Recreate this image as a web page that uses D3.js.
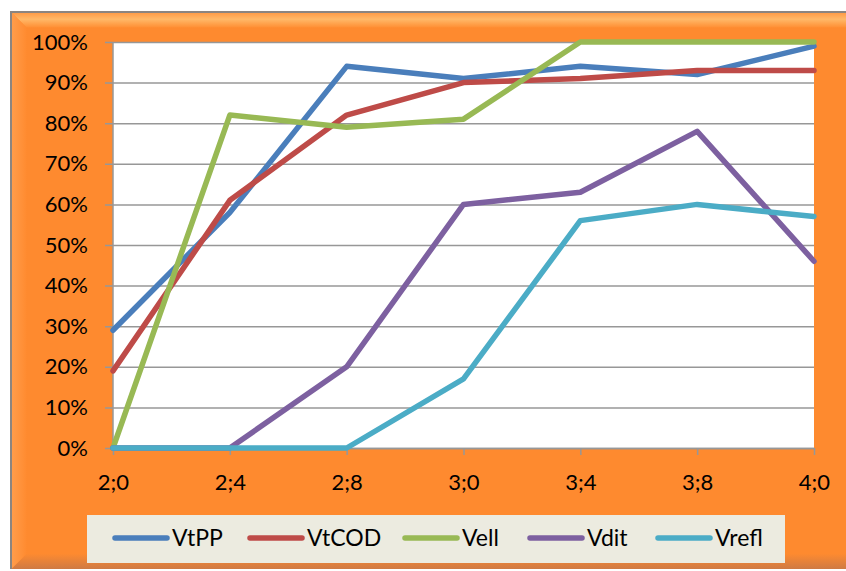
<!DOCTYPE html>
<html>
<head>
<meta charset="utf-8">
<script src="https://cdn.jsdelivr.net/npm/d3@7"></script>
<style>
  html, body { margin: 0; padding: 0; background: #ffffff; }
  svg { display: block; font-family: Lato, "Open Sans", "Liberation Sans", sans-serif; }
  text { font-weight: 400; }
</style>
</head>
<body>
<svg id="chart" width="846" height="571"></svg>
<script>
// Age categories (years;months) and percentage series
const categories = ["2;0", "2;4", "2;8", "3;0", "3;4", "3;8", "4;0"];
const seriesNames = ["VtPP", "VtCOD", "Vell", "Vdit", "Vrefl"];
const seriesColors = ["#4a7ebb", "#be4b48", "#98b954", "#7d60a0", "#4bacc6"];
const VtPP  = [29, 58, 94, 91, 94, 92, 99];
const VtCOD = [19, 61, 82, 90, 91, 93, 93];
const Vell  = [0, 82, 79, 81, 100, 100, 100];
const Vdit  = [0, 0, 20, 60, 63, 78, 46];
const Vrefl = [0, 0, 0, 17, 56, 60, 57];
const yTicks = [0, 10, 20, 30, 40, 50, 60, 70, 80, 90, 100];

const seriesValues = [VtPP, VtCOD, Vell, Vdit, Vrefl];
const series = seriesNames.map((name, i) => ({ name, color: seriesColors[i], values: seriesValues[i] }));

const W = 846, H = 571;
const FONT = "Lato, 'Open Sans', sans-serif";
const svg = d3.select("#chart");
const defs = svg.append("defs");

// Orange frame with bevelled edges
const frame = { x: 10, y: 11, w: W - 10, h: 558 };
const bevel = 15;

const topGrad = defs.append("linearGradient").attr("id", "topBevel").attr("x1", 0).attr("y1", 0).attr("x2", 0).attr("y2", 1);
topGrad.append("stop").attr("offset", "0%").attr("stop-color", "#ff9a45");
topGrad.append("stop").attr("offset", "45%").attr("stop-color", "#ffb868");
topGrad.append("stop").attr("offset", "100%").attr("stop-color", "#ff8f34");

const leftGrad = defs.append("linearGradient").attr("id", "leftBevel").attr("x1", 0).attr("y1", 0).attr("x2", 1).attr("y2", 0);
leftGrad.append("stop").attr("offset", "0%").attr("stop-color", "#ff9d4c");
leftGrad.append("stop").attr("offset", "100%").attr("stop-color", "#ff8b30");

const botGrad = defs.append("linearGradient").attr("id", "botBevel").attr("x1", 0).attr("y1", 0).attr("x2", 0).attr("y2", 1);
botGrad.append("stop").attr("offset", "0%").attr("stop-color", "#fd8a30");
botGrad.append("stop").attr("offset", "100%").attr("stop-color", "#cf7a44");

svg.append("rect")
  .attr("x", frame.x).attr("y", frame.y)
  .attr("width", frame.w).attr("height", frame.h)
  .attr("fill", "#fe8a2f");

const fx0 = frame.x + 1.5, fy0 = frame.y + 1.5, fx1 = frame.x + frame.w, fy1 = frame.y + frame.h;
svg.append("polygon")
  .attr("points", [[fx0, fy0], [fx1, fy0], [fx1, fy0 + bevel], [fx0 + bevel, fy0 + bevel]].join(" "))
  .attr("fill", "url(#topBevel)");
svg.append("polygon")
  .attr("points", [[fx0, fy0], [fx0 + bevel, fy0 + bevel], [fx0 + bevel, fy1 - bevel], [fx0, fy1]].join(" "))
  .attr("fill", "url(#leftBevel)");
svg.append("polygon")
  .attr("points", [[fx0, fy1], [fx0 + bevel, fy1 - bevel], [fx1, fy1 - bevel], [fx1, fy1]].join(" "))
  .attr("fill", "url(#botBevel)");

// Thin grey outline on the top and left of the frame
svg.append("path")
  .attr("d", `M${frame.x + 1},${frame.h + frame.y} V${frame.y + 1} H${W}`)
  .attr("fill", "none").attr("stroke", "#8c8580").attr("stroke-width", 2);

// Plot area
const plot = { left: 113, right: 814, top: 42, bottom: 448 };
svg.append("rect")
  .attr("x", plot.left).attr("y", plot.top)
  .attr("width", plot.right - plot.left).attr("height", plot.bottom - plot.top)
  .attr("fill", "#ffffff");

const x = d3.scalePoint().domain(categories).range([plot.left, plot.right]);
const y = d3.scaleLinear().domain([0, 100]).range([plot.bottom, plot.top]);

// Horizontal gridlines with outward tick marks
const yAxis = svg.append("g")
  .attr("transform", `translate(${plot.left},0)`)
  .call(d3.axisLeft(y).tickValues(yTicks).tickSize(-(plot.right - plot.left)).tickSizeOuter(0).tickPadding(25).tickFormat(d => d + "%"));
yAxis.select(".domain").remove();
yAxis.selectAll(".tick line")
  .attr("x1", -8)
  .attr("stroke", "#979797").attr("stroke-width", 1.5);
yAxis.selectAll(".tick text")
  .attr("fill", "#000").attr("font-size", 22).attr("font-family", FONT).attr("font-weight", 400);

// Left axis line
svg.append("line")
  .attr("x1", plot.left).attr("x2", plot.left)
  .attr("y1", plot.top).attr("y2", plot.bottom)
  .attr("stroke", "#979797").attr("stroke-width", 1.5);

// Category axis
const xAxis = svg.append("g")
  .attr("transform", `translate(0,${plot.bottom})`)
  .call(d3.axisBottom(x).tickSize(7).tickSizeOuter(0).tickPadding(19));
xAxis.select(".domain").attr("stroke", "#979797").attr("stroke-width", 1.5);
xAxis.selectAll(".tick line").attr("stroke", "#979797").attr("stroke-width", 1.5);
xAxis.selectAll(".tick text")
  .attr("fill", "#000").attr("font-size", 22).attr("font-family", FONT).attr("font-weight", 400);

// Series lines
const line = d3.line()
  .x((d, i) => x(categories[i]))
  .y(d => y(d));

svg.append("g").selectAll("path")
  .data(series)
  .join("path")
  .attr("d", d => line(d.values))
  .attr("fill", "none")
  .attr("stroke", d => d.color)
  .attr("stroke-width", 5.5)
  .attr("stroke-linejoin", "round")
  .attr("stroke-linecap", "round");

// Legend
const legend = { x: 87, y: 515, w: 698, h: 48 };
svg.append("rect")
  .attr("x", legend.x).attr("y", legend.y)
  .attr("width", legend.w).attr("height", legend.h)
  .attr("fill", "#ecebe0");

const legendStarts = [113, 248, 403, 528, 656];
const item = svg.append("g").selectAll("g")
  .data(series)
  .join("g")
  .attr("transform", (d, i) => `translate(${legendStarts[i]},${legend.y + 23})`);
item.append("line")
  .attr("x1", 2).attr("x2", 54)
  .attr("stroke", d => d.color)
  .attr("stroke-width", 5.5)
  .attr("stroke-linecap", "round");
item.append("text")
  .attr("x", 59).attr("dy", "0.35em")
  .attr("font-size", 23)
  .attr("font-family", FONT)
  .attr("font-weight", 400)
  .attr("fill", "#000")
  .text(d => d.name);
</script>
</body>
</html>
